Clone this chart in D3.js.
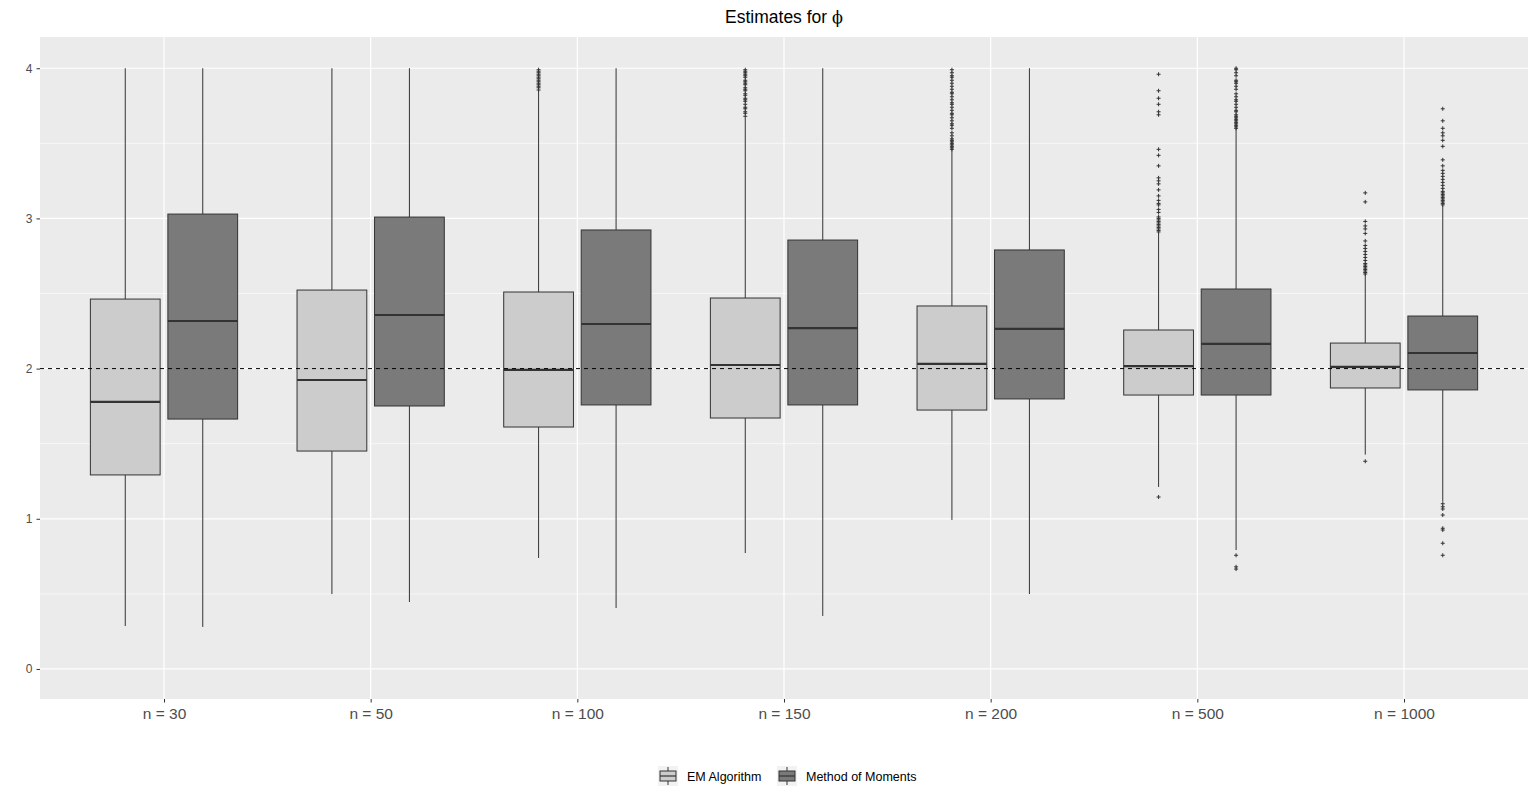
<!DOCTYPE html>
<html>
<head>
<meta charset="utf-8">
<script src="https://cdn.jsdelivr.net/npm/d3@7"></script>
<style>
  body { margin: 0; background: #fff; }
  svg { display: block; font-family: "Liberation Sans", Arial, sans-serif; }
</style>
</head>
<body>
<svg id="chart" width="1536" height="801"></svg>
<script>
// sample sizes on the x axis
var categories = ["n = 30", "n = 50", "n = 100", "n = 150", "n = 200", "n = 500", "n = 1000"];
var methods = ["EM Algorithm", "Method of Moments"];
var yTicks = [0, 1, 2, 3, 4];
var trueValue = 2;

// box stats per category: [lower whisker, q1, median, q3, upper whisker]
var emStats = [
    [0.286, 1.292, 1.778, 2.463, 4.0],
    [0.499, 1.451, 1.924, 2.523, 4.0],
    [0.739, 1.611, 1.991, 2.510, 3.848],
    [0.772, 1.671, 2.024, 2.470, 3.668],
    [0.992, 1.724, 2.031, 2.417, 3.455],
    [1.212, 1.824, 2.017, 2.257, 2.903],
    [1.427, 1.871, 2.011, 2.170, 2.623]
];
var momStats = [
    [0.280, 1.664, 2.317, 3.029, 4.0],
    [0.446, 1.751, 2.357, 3.009, 4.0],
    [0.406, 1.758, 2.297, 2.923, 4.0],
    [0.353, 1.758, 2.270, 2.856, 4.0],
    [0.499, 1.798, 2.264, 2.790, 4.0],
    [0.792, 1.824, 2.164, 2.530, 3.595],
    [1.114, 1.858, 2.104, 2.350, 3.083]
];

// outlying estimates per category
var emOutliers = [
    [],
    [],
    [3.855, 3.87, 3.88, 3.89, 3.90, 3.91, 3.92, 3.93, 3.94, 3.95, 3.96, 3.97, 3.98, 3.99],
    [3.68, 3.70, 3.71, 3.73, 3.74, 3.76, 3.78, 3.79, 3.80, 3.82, 3.83, 3.85, 3.86, 3.87, 3.89, 3.90, 3.91, 3.92, 3.94, 3.95, 3.96, 3.97, 3.98, 3.99],
    [3.46, 3.47, 3.48, 3.49, 3.50, 3.51, 3.52, 3.53, 3.55, 3.57, 3.60, 3.62, 3.63, 3.65, 3.67, 3.69, 3.70, 3.72, 3.74, 3.76, 3.77, 3.79, 3.81, 3.83, 3.84, 3.86, 3.88, 3.90, 3.92, 3.94, 3.95, 3.97, 3.99],
    [1.145, 2.91, 2.92, 2.93, 2.94, 2.95, 2.96, 2.97, 2.98, 2.99, 3.00, 3.01, 3.04, 3.06, 3.09, 3.10, 3.12, 3.15, 3.19, 3.23, 3.25, 3.27, 3.35, 3.42, 3.46, 3.69, 3.71, 3.76, 3.80, 3.85, 3.96],
    [1.383, 2.63, 2.64, 2.65, 2.66, 2.67, 2.68, 2.69, 2.70, 2.72, 2.74, 2.76, 2.78, 2.80, 2.82, 2.85, 2.90, 2.93, 2.95, 2.98, 3.11, 3.17]
];
var momOutliers = [
    [],
    [],
    [],
    [],
    [],
    [0.665, 0.68, 0.757, 3.60, 3.61, 3.62, 3.63, 3.64, 3.65, 3.66, 3.67, 3.68, 3.69, 3.71, 3.72, 3.74, 3.76, 3.78, 3.79, 3.81, 3.83, 3.86, 3.88, 3.90, 3.91, 3.92, 3.95, 3.97, 3.99, 4.00],
    [0.757, 0.837, 0.925, 0.937, 1.025, 1.065, 1.08, 1.10, 3.09, 3.10, 3.11, 3.12, 3.13, 3.14, 3.15, 3.16, 3.17, 3.18, 3.20, 3.22, 3.24, 3.26, 3.28, 3.30, 3.32, 3.35, 3.39, 3.48, 3.52, 3.55, 3.57, 3.60, 3.65, 3.73]
];

var fills = {"EM Algorithm": "#cccccc", "Method of Moments": "#7a7a7a"};

var svg = d3.select("#chart");
var panel = {left: 40, right: 1528, top: 37, bottom: 699};

var x = d3.scalePoint()
    .domain(categories)
    .range([panel.left, panel.right])
    .padding(0.6);
var step = x.step();

// dodge the two methods within each category
var dodge = d3.scaleBand()
    .domain(methods)
    .range([-step * 0.375, step * 0.375])
    .paddingInner(0);

var y = d3.scaleLinear()
    .domain([-0.2, 4.208])
    .range([panel.bottom, panel.top]);

// panel background + grid
svg.append("rect")
    .attr("x", panel.left).attr("y", panel.top)
    .attr("width", panel.right - panel.left)
    .attr("height", panel.bottom - panel.top)
    .attr("fill", "#ebebeb");

var minor = d3.range(0.5, 4.0, 1);
svg.selectAll(".minor").data(minor).enter().append("line")
    .attr("x1", panel.left).attr("x2", panel.right)
    .attr("y1", function(d) { return y(d); })
    .attr("y2", function(d) { return y(d); })
    .attr("stroke", "#fff").attr("stroke-width", 0.6);

svg.selectAll(".major").data(yTicks).enter().append("line")
    .attr("x1", panel.left).attr("x2", panel.right)
    .attr("y1", function(d) { return y(d); })
    .attr("y2", function(d) { return y(d); })
    .attr("stroke", "#fff").attr("stroke-width", 1.2);

svg.selectAll(".vgrid").data(categories).enter().append("line")
    .attr("x1", function(d) { return x(d); })
    .attr("x2", function(d) { return x(d); })
    .attr("y1", panel.top).attr("y2", panel.bottom)
    .attr("stroke", "#fff").attr("stroke-width", 1.2);

// axes
var yAxis = svg.append("g")
    .attr("transform", "translate(" + panel.left + ",0)")
    .call(d3.axisLeft(y).tickValues(yTicks).tickSize(3.5).tickPadding(4).tickFormat(d3.format("d")));
yAxis.select(".domain").remove();
yAxis.selectAll("line").attr("stroke", "#333");
yAxis.selectAll("text").attr("fill", "#4d4d4d").attr("font-size", 12)
    .attr("font-family", "Liberation Sans, Arial, sans-serif");

var xAxis = svg.append("g")
    .attr("transform", "translate(0," + panel.bottom + ")")
    .call(d3.axisBottom(x).tickSize(3.5).tickPadding(5));
xAxis.select(".domain").remove();
xAxis.selectAll("line").attr("stroke", "#333");
xAxis.selectAll("text").attr("fill", "#4d4d4d").attr("font-size", 15.5)
    .attr("font-family", "Liberation Sans, Arial, sans-serif");

// boxes
var boxW = dodge.bandwidth() * 0.9;
function drawBoxes(stats, outliers, method) {
    var g = svg.append("g");
    stats.forEach(function(s, i) {
        var cx = x(categories[i]) + dodge(method) + dodge.bandwidth() / 2;
        g.append("line")
            .attr("x1", cx).attr("x2", cx)
            .attr("y1", y(s[3])).attr("y2", y(s[4]))
            .attr("stroke", "#333").attr("stroke-width", 1);
        g.append("line")
            .attr("x1", cx).attr("x2", cx)
            .attr("y1", y(s[0])).attr("y2", y(s[1]))
            .attr("stroke", "#333").attr("stroke-width", 1);
        g.append("rect")
            .attr("x", cx - boxW / 2).attr("y", y(s[3]))
            .attr("width", boxW).attr("height", y(s[1]) - y(s[3]))
            .attr("fill", fills[method]).attr("stroke", "#333").attr("stroke-width", 1);
        g.append("line")
            .attr("x1", cx - boxW / 2).attr("x2", cx + boxW / 2)
            .attr("y1", y(s[2])).attr("y2", y(s[2]))
            .attr("stroke", "#333").attr("stroke-width", 2.2);
        // outliers as small crosses
        outliers[i].forEach(function(v) {
            var py = y(v);
            g.append("path")
                .attr("d", "M" + (cx - 2) + "," + py + "H" + (cx + 2) + "M" + cx + "," + (py - 2) + "V" + (py + 2))
                .attr("stroke", "#333").attr("stroke-width", 1);
        });
    });
}
drawBoxes(emStats, emOutliers, "EM Algorithm");
drawBoxes(momStats, momOutliers, "Method of Moments");

// reference line at the true value
svg.append("line")
    .attr("x1", panel.left).attr("x2", panel.right)
    .attr("y1", y(trueValue)).attr("y2", y(trueValue))
    .attr("stroke", "#000").attr("stroke-width", 1)
    .attr("stroke-dasharray", "4,4");

// title
var title = svg.append("text")
    .attr("x", (panel.left + panel.right) / 2).attr("y", 23)
    .attr("text-anchor", "middle")
    .attr("font-size", 17.5).attr("fill", "#000");
title.append("tspan").text("Estimates for ");
title.append("tspan").attr("font-family", "DejaVu Serif, serif").attr("font-size", 16).text("\u03d5");

// legend
var legendX = [658, 777];
var legend = svg.append("g");
methods.forEach(function(m, i) {
    var lx = legendX[i], ly = 766;
    legend.append("rect").attr("x", lx).attr("y", ly).attr("width", 20).attr("height", 20).attr("fill", "#f2f2f2");
    legend.append("line").attr("x1", lx + 10).attr("x2", lx + 10).attr("y1", ly + 1).attr("y2", ly + 19)
        .attr("stroke", "#333");
    legend.append("rect").attr("x", lx + 2).attr("y", ly + 5).attr("width", 16).attr("height", 10)
        .attr("fill", fills[m]).attr("stroke", "#333");
    legend.append("line").attr("x1", lx + 2).attr("x2", lx + 18).attr("y1", ly + 10).attr("y2", ly + 10)
        .attr("stroke", "#333").attr("stroke-width", 1.2);
    legend.append("text").attr("x", lx + 29).attr("y", ly + 15)
        .attr("font-size", 12.5).attr("fill", "#000").text(m);
});
</script>
</body>
</html>
